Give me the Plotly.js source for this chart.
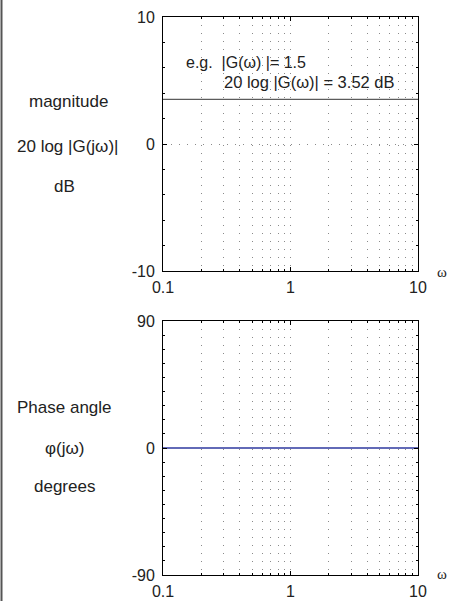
<!DOCTYPE html>
<html>
<head>
<meta charset="utf-8">
<script src="https://cdn.plot.ly/plotly-3.0.1.min.js"></script>
<style>html,body{margin:0;padding:0;background:#fff;}#chart{width:452px;height:601px;}</style>
</head>
<body>
<div id="chart"></div>
<script>
// Data
var omega = [0.1, 10];
var magnitudeDb = [3.52, 3.52];
var phaseDeg = [0, 0];
var xTickVals = [0.1, 1, 10];
var xTickText = ['0.1', '1', '10'];
var magTickVals = [-10, 0, 10];
var magTickText = ['-10', '0', '10'];
var phaseTickVals = [-90, 0, 90];
var phaseTickText = ['-90', '0', '90'];
var minorX = [0.2,0.3,0.4,0.5,0.6,0.7,0.8,0.9,1,2,3,4,5,6,7,8,9];

var W = 452, H = 601;
function px(x){return x/W;}
function py(y){return 1 - y/H;}

var FONT = 'Liberation Sans, Arial, Helvetica, sans-serif';
var SERIF = 'Liberation Serif, Times New Roman, serif';
var TXT = '#222';

var xBase = {
  type: 'log', range: [-1, 1], tickvals: xTickVals, ticktext: xTickText,
  ticks: 'inside', ticklen: 4, tickcolor: '#000', showline: true, linecolor: '#000', linewidth: 1,
  mirror: 'ticks', showgrid: false, zeroline: false,
  tickfont: {family: FONT, size: 16, color: TXT}, ticklabelstandoff: 2,
  minor: {tickvals: minorX, ticks: 'inside', ticklen: 2, tickcolor: '#000', showgrid: true,
          gridcolor: '#8a8a8a', griddash: '1px,7px', gridwidth: 1},
  domain: [px(163), px(418)]
};

var traces = [
  {x: omega, y: magnitudeDb, xaxis: 'x', yaxis: 'y', mode: 'lines',
   line: {color: '#333', width: 1}, hoverinfo: 'skip'},
  {x: omega, y: phaseDeg, xaxis: 'x2', yaxis: 'y2', mode: 'lines',
   line: {color: 'rgba(70,80,170,0.85)', width: 2}, hoverinfo: 'skip'}
];

function ann(x, y, text, size, family, anchor){
  return {xref: 'paper', yref: 'paper', x: px(x), y: py(y), xanchor: anchor || 'center', yanchor: 'middle',
          text: text, showarrow: false, font: {family: family || FONT, size: size, color: TXT}};
}

var layout = {
  width: W, height: H, margin: {l: 0, r: 0, t: 0, b: 0},
  paper_bgcolor: '#fff', plot_bgcolor: '#fff', showlegend: false,
  xaxis: Object.assign({}, xBase, {anchor: 'y'}),
  xaxis2: Object.assign({}, xBase, {anchor: 'y2'}),
  yaxis: {
    range: [-10, 10], tickvals: magTickVals, ticktext: magTickText,
    ticks: 'inside', ticklen: 4, tickcolor: '#000', showline: true, linecolor: '#000', linewidth: 1,
    mirror: 'ticks', showgrid: true, gridcolor: '#8a8a8a', griddash: '1px,7px', zeroline: false,
    tickfont: {family: FONT, size: 16, color: TXT}, ticklabelstandoff: 4,
    minor: {dtick: 2, ticks: 'inside', ticklen: 2, tickcolor: '#000', showgrid: false},
    domain: [py(271), py(17)], anchor: 'x'
  },
  yaxis2: {
    range: [-90, 90], tickvals: phaseTickVals, ticktext: phaseTickText,
    ticks: 'inside', ticklen: 4, tickcolor: '#000', showline: true, linecolor: '#000', linewidth: 1,
    mirror: 'ticks', showgrid: false, zeroline: false,
    tickfont: {family: FONT, size: 16, color: TXT}, ticklabelstandoff: 4,
    minor: {dtick: 10, ticks: 'inside', ticklen: 2, tickcolor: '#000', showgrid: false},
    domain: [py(575), py(321)], anchor: 'x2'
  },
  shapes: [
    {type: 'line', xref: 'paper', yref: 'paper', x0: px(1.5), x1: px(1.5), y0: 0, y1: 1,
     line: {color: '#555', width: 2}}
  ],
  annotations: [
    ann(184, 62, 'e.g.  |G(ω) |= 1.5', 16, FONT, 'left'),
    ann(222, 82, '20 log |G(ω)| = 3.52 dB', 16.5, FONT, 'left'),
    ann(68, 102, 'magnitude', 17),
    ann(67, 146, '20 log |G(jω)|', 17),
    ann(64, 187, 'dB', 17),
    ann(64, 407, 'Phase angle', 17),
    ann(64, 448, 'φ(jω)', 17),
    ann(64, 487, 'degrees', 17),
    ann(442, 272, 'ω', 15, SERIF),
    ann(442, 574, 'ω', 15, SERIF)
  ]
};

Plotly.newPlot('chart', traces, layout, {displayModeBar: false, staticPlot: true});
</script>
</body>
</html>
